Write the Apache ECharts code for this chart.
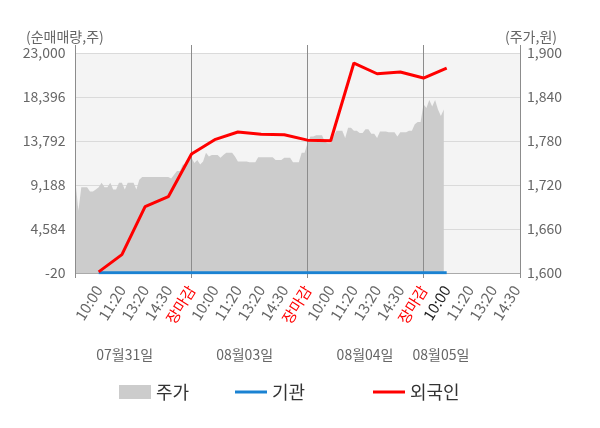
<!DOCTYPE html>
<html><head><meta charset="utf-8">
<script src="https://cdn.jsdelivr.net/npm/echarts@6/dist/echarts.min.js"></script>
<style>html,body{margin:0;padding:0;background:#fff}#c{width:600px;height:428px}</style>
</head><body><div id="c"></div>
<script>
// ---- data ----
const timeLabels = ['', '10:00','11:20','13:20','14:30','장마감',
  '10:00','11:20','13:20','14:30','장마감',
  '10:00','11:20','13:20','14:30','장마감',
  '10:00','11:20','13:20','14:30'];
const dateLabels = ['07월31일','08월03일','08월04일','08월05일'];
// net buy volume (shares) at label slots 1..16
const foreign = [100, 1900, 6920, 7960, 12430, 13930, 14730, 14500, 14450, 13880, 13820, 21950, 20830, 21010, 20380, 21430];
const institution = [0, 0, 0, 0, 0, 0, 0, 0, 0, 0, 0, 0, 0, 0, 0, 0];
// stock price (won), sampled 8 times per label slot, starting at slot 0
const prices = [
  1724,1685,1717,1717,1717,1711,1711,1714,1717,1723,1717,1717,1723,1714,1714,1723,
  1723,1714,1723,1723,1723,1714,1727,1731,1731,1731,1731,1731,1731,1731,1731,1731,
  1731,1729,1734,1739,1739,1748,1748,1754,1757,1750,1754,1748,1752,1764,1759,1761,
  1761,1761,1757,1761,1764,1764,1764,1759,1752,1752,1752,1752,1751,1751,1751,1758,
  1758,1758,1758,1758,1758,1754,1754,1754,1757,1757,1757,1751,1751,1751,1764,1764,
  1777,1786,1786,1788,1788,1788,1779,1777,1777,1786,1794,1794,1794,1784,1798,1798,
  1794,1794,1791,1791,1796,1796,1790,1790,1784,1793,1793,1793,1792,1792,1792,1786,
  1792,1792,1792,1794,1794,1803,1806,1806,1830,1825,1836,1827,1836,1823,1814,1823
];
const PRICE_STEP = 1 / 8;
const VOL_MIN = -20, VOL_MAX = 23000, VOL_STEP = 4604;
const PRICE_MIN = 1600, PRICE_MAX = 1900, PRICE_TICK = 60;

// ---- layout ----
const XMAX = 19.16;
const DAY_STEP = 5;
const DATE_POS = [2.12, 7.29, 12.48, 15.75];
const HIGHLIGHT = 16;
const FONT = 'Noto Sans CJK KR';
const fmt = v => Number(v).toLocaleString('en-US');

const chart = echarts.init(document.getElementById('c'));
chart.setOption({
  animation: false,
  textStyle: { fontFamily: FONT },
  title: [
    { text: '(순매매량,주)', left: 21, top: 25, textStyle: { fontSize: 14, fontWeight: 'normal', color: '#666', fontFamily: FONT } },
    { text: '(주가,원)', right: 38, top: 25, textStyle: { fontSize: 14, fontWeight: 'normal', color: '#666', fontFamily: FONT } }
  ],
  legend: [
    { data: [{ name: '주가', icon: 'rect' }], left: 114, top: 378, itemWidth: 32, itemHeight: 14, itemGap: 0,
      textStyle: { fontSize: 18, color: '#333', fontFamily: FONT } },
    { data: [{ name: '기관', icon: 'rect' }], left: 230, top: 378, itemWidth: 32, itemHeight: 3,
      textStyle: { fontSize: 18, color: '#333', fontFamily: FONT } },
    { data: [{ name: '외국인', icon: 'rect' }], left: 368, top: 378, itemWidth: 32, itemHeight: 3,
      textStyle: { fontSize: 18, color: '#333', fontFamily: FONT } }
  ],
  grid: [
    { left: 75.5, right: 80, top: 53, bottom: 155, show: true, backgroundColor: '#f4f4f4', borderWidth: 0 },
    { left: 75.5, right: 80, top: 45, bottom: 150, show: false }
  ],
  xAxis: [
    { type: 'value', gridIndex: 0, min: 0, max: XMAX,
      axisLine: { show: true, lineStyle: { color: '#aaa', width: 1 } },
      axisTick: { show: false }, splitLine: { show: false },
      axisLabel: {
        customValues: timeLabels.map((t, i) => i).slice(1),
        rotate: 58, margin: 14, fontSize: 15, color: '#666', fontFamily: FONT,
        formatter: v => {
          const i = Math.round(v);
          const t = timeLabels[i] || '';
          if (t === '장마감') return '{r|' + t + '}';
          if (i === HIGHLIGHT) return '{d|' + t + '}';
          return t;
        },
        rich: {
          r: { color: '#ff0000', fontSize: 15, fontFamily: FONT },
          d: { color: '#222', fontSize: 15, fontFamily: FONT }
        }
      }
    },
    { type: 'value', gridIndex: 1, min: 0, max: XMAX, interval: DAY_STEP, z: 2,
      axisLine: { show: false }, axisTick: { show: false }, axisLabel: { show: false },
      splitLine: { show: true, lineStyle: { color: '#8c8c8c', width: 1 } }
    },
    { type: 'value', gridIndex: 0, min: 0, max: XMAX, position: 'bottom', offset: 75,
      axisLine: { show: false }, axisTick: { show: false }, splitLine: { show: false },
      axisLabel: {
        customValues: DATE_POS, margin: 0, fontSize: 14, color: '#666', fontFamily: FONT,
        formatter: v => {
          let best = 0;
          DATE_POS.forEach((p, i) => { if (Math.abs(p - v) < Math.abs(DATE_POS[best] - v)) best = i; });
          return dateLabels[best];
        }
      }
    }
  ],
  yAxis: [
    { type: 'value', gridIndex: 0, position: 'left', min: VOL_MIN, max: VOL_MAX, interval: VOL_STEP,
      axisLine: { show: false }, axisTick: { show: false },
      axisLabel: { margin: 10, fontSize: 14, color: '#666', fontFamily: FONT, formatter: fmt },
      splitLine: { show: true, lineStyle: { color: '#dadada', width: 1 } }
    },
    { type: 'value', gridIndex: 0, position: 'right', min: PRICE_MIN, max: PRICE_MAX, interval: PRICE_TICK,
      axisLine: { show: false }, axisTick: { show: false },
      axisLabel: { margin: 7, fontSize: 14, color: '#666', fontFamily: FONT, formatter: fmt },
      splitLine: { show: false }
    },
    { type: 'value', gridIndex: 1, min: 0, max: 1, show: false }
  ],
  series: [
    { name: '주가', type: 'line', xAxisIndex: 0, yAxisIndex: 1, z: 1,
      data: prices.map((p, i) => [i * PRICE_STEP, p]),
      symbol: 'none', showSymbol: false,
      itemStyle: { color: '#cccccc' },
      lineStyle: { width: 0, color: '#cccccc' },
      areaStyle: { color: '#cccccc', opacity: 1, origin: 'start' }
    },
    { name: '기관', type: 'line', xAxisIndex: 0, yAxisIndex: 0, z: 3,
      data: institution.map((v, i) => [i + 1, v]),
      symbol: 'none', itemStyle: { color: '#1a82d2' },
      lineStyle: { width: 3, color: '#1a82d2' }
    },
    { name: '외국인', type: 'line', xAxisIndex: 0, yAxisIndex: 0, z: 4,
      data: foreign.map((v, i) => [i + 1, v]),
      symbol: 'none', itemStyle: { color: '#ff0000' },
      lineStyle: { width: 3, color: '#ff0000' }
    }
  ]
});
</script>
</body></html>
